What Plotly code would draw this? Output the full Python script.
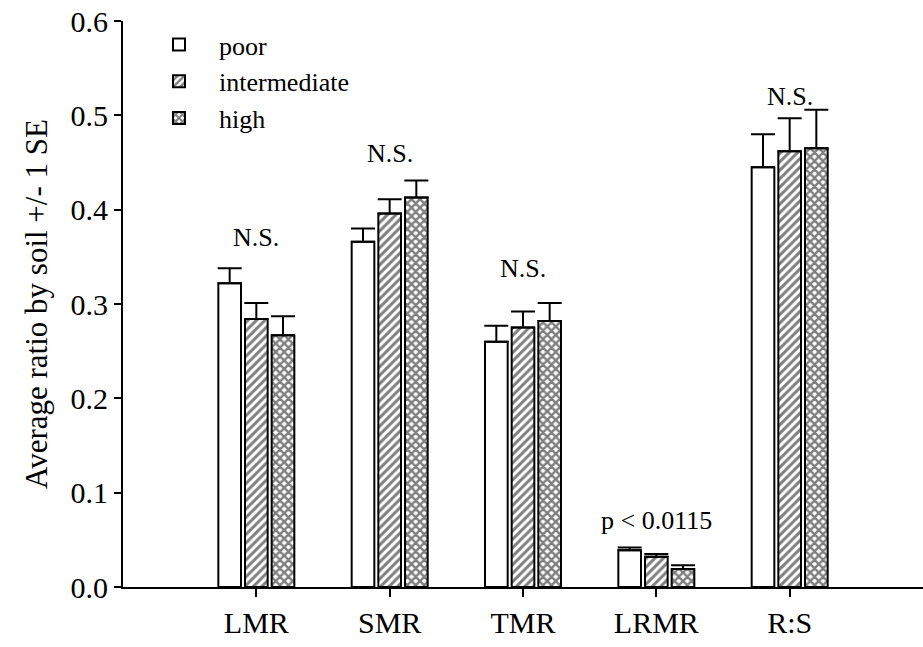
import plotly.graph_objects as go

categories = ["LMR", "SMR", "TMR", "LRMR", "R:S"]
series_names = ["poor", "intermediate", "high"]
poor = [0.322, 0.366, 0.260, 0.039, 0.445]
poor_se = [0.016, 0.014, 0.017, 0.003, 0.035]
intermediate = [0.284, 0.396, 0.275, 0.032, 0.462]
intermediate_se = [0.017, 0.015, 0.017, 0.003, 0.035]
high = [0.267, 0.413, 0.282, 0.019, 0.465]
high_se = [0.020, 0.018, 0.019, 0.004, 0.041]

annot_text = ["N.S.", "N.S.", "N.S.", "p < 0.0115", "N.S."]
annot_y = [0.37, 0.46, 0.338, 0.07, 0.52]

FONT = "Times New Roman, Liberation Serif, serif"

patterns = [
    dict(shape=""),
    dict(shape="/", fgcolor="black", bgcolor="white", size=6, solidity=0.5),
    dict(shape="x", fgcolor="black", bgcolor="white", size=6, solidity=0.65),
]
values = [poor, intermediate, high]
errs = [poor_se, intermediate_se, high_se]

fig = go.Figure()
for name, vals, se, pat in zip(series_names, values, errs, patterns):
    fig.add_trace(go.Bar(
        name=name, x=categories, y=vals,
        marker=dict(color="white", line=dict(color="black", width=2), pattern=pat),
        error_y=dict(type="data", array=se, arrayminus=[0]*len(se), symmetric=False,
                     color="black", thickness=2, width=12),
    ))

for c, t, y in zip(categories, annot_text, annot_y):
    fig.add_annotation(x=c, y=y, text=t, showarrow=False,
                       font=dict(family=FONT, size=26, color="black"))

fig.update_layout(
    width=923, height=647,
    margin=dict(l=123, r=0, t=21, b=60),
    paper_bgcolor="white", plot_bgcolor="white",
    barmode="group", bargap=0.4, bargroupgap=0.15,
    font=dict(family=FONT, size=30, color="black"),
    showlegend=True,
    legend=dict(x=0.02, y=1.0, xanchor="left", yanchor="top",
                font=dict(family=FONT, size=26, color="black"), bgcolor="rgba(0,0,0,0)",
                itemwidth=70, tracegroupgap=0),
)
fig.update_xaxes(
    type="category", range=[-1, 5.0],
    showline=True, linecolor="black", linewidth=2,
    ticks="outside", ticklen=8, tickwidth=2, tickcolor="black",
    showgrid=False, zeroline=False,
    tickfont=dict(family=FONT, size=30, color="black"),
)
fig.update_yaxes(
    range=[0, 0.6], dtick=0.1, tickformat=".1f",
    showline=True, linecolor="black", linewidth=2,
    ticks="outside", ticklen=7, tickwidth=2, tickcolor="black",
    showgrid=False, zeroline=False,
    tickfont=dict(family=FONT, size=30, color="black"),
    title=dict(text="Average ratio by soil +/- 1 SE", font=dict(family=FONT, size=31, color="black"), standoff=14),
)

fig.write_html("out.html")
